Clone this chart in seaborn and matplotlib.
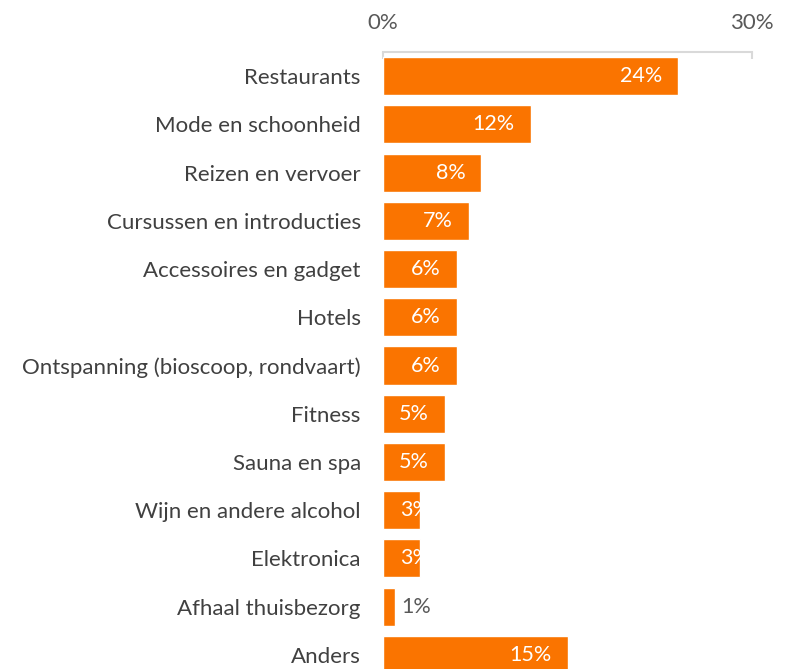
import matplotlib
matplotlib.use("Agg")
import matplotlib.pyplot as plt
import seaborn as sns
import pandas as pd

categories = [
    "Restaurants",
    "Mode en schoonheid",
    "Reizen en vervoer",
    "Cursussen en introducties",
    "Accessoires en gadget",
    "Hotels",
    "Ontspanning (bioscoop, rondvaart)",
    "Fitness",
    "Sauna en spa",
    "Wijn en andere alcohol",
    "Elektronica",
    "Afhaal thuisbezorg",
    "Anders",
]
values = [24, 12, 8, 7, 6, 6, 6, 5, 5, 3, 3, 1, 15]
tick_values = [0, 30]
tick_labels = ["0%", "30%"]

df = pd.DataFrame({"categorie": categories, "aandeel": values})

sns.set_theme(style="white")
plt.rcParams["font.family"] = ["Lato", "DejaVu Sans"]

W, H = 785, 669
fig = plt.figure(figsize=(W / 100, H / 100), dpi=100)
ax = fig.add_axes([383 / W, -10 / H, 369 / W, (679 - 52) / H])

orange = "#FA7400"
sns.barplot(data=df, x="aandeel", y="categorie", orient="h", color=orange,
            saturation=1, width=0.79, ax=ax)

ax.set_xlim(0, 30)
ax.set_ylim(12.5, -0.5)
ax.set_xlabel("")
ax.set_ylabel("")

# axis line and ticks on top
for s in ["left", "right", "bottom"]:
    ax.spines[s].set_visible(False)
ax.spines["top"].set_color("#D9D9D9")
ax.spines["top"].set_linewidth(1.5)
ax.xaxis.tick_top()
ax.set_xticks(tick_values)
ax.set_xticklabels(tick_labels)
ax.tick_params(axis="x", direction="in", length=5, width=1.5, color="#D9D9D9",
               pad=13.5, labelsize=16, labelcolor="#595959")
ax.tick_params(axis="y", length=0, pad=16, labelsize=16, labelcolor="#404040")

# value labels
bars = ax.patches
for bar, v in zip(bars, values):
    y = bar.get_y() + bar.get_height() / 2
    if v <= 1:
        ax.text(v + 0.5, y, f"{v}%", ha="left", va="center",
                color="#595959", fontsize=15.5)
    elif v < 4:
        t = ax.text(1.4, y, f"{v}%", ha="left", va="center",
                    color="white", fontsize=15.5)
        t.set_clip_path(bar)
    else:
        ax.text(v - 1.3, y, f"{v}%", ha="right", va="center",
                color="white", fontsize=15.5)

fig.savefig("out.png", dpi=100)
